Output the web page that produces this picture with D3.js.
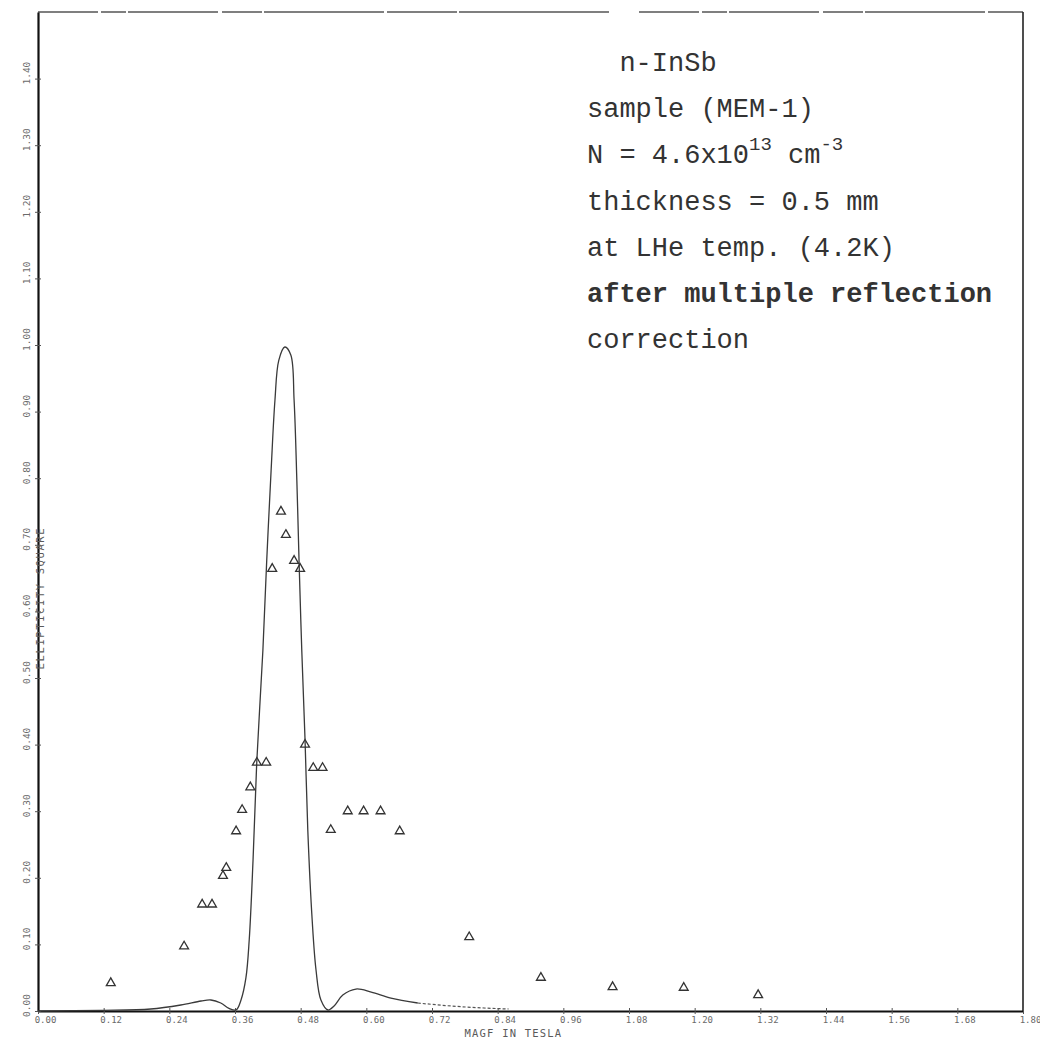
<!DOCTYPE html>
<html>
<head>
<meta charset="utf-8">
<script src="https://cdn.jsdelivr.net/npm/d3@7"></script>
<style>
  html, body { margin: 0; padding: 0; background: #fff; }
  svg { display: block; }
</style>
</head>
<body>
<svg id="chart" width="1040" height="1039"></svg>
<script>
// ---- data ----
const xTickValues = [0.00, 0.12, 0.24, 0.36, 0.48, 0.60, 0.72, 0.84, 0.96, 1.08, 1.20, 1.32, 1.44, 1.56, 1.68, 1.80];
const yTickValues = [0.00, 0.10, 0.20, 0.30, 0.40, 0.50, 0.60, 0.70, 0.80, 0.90, 1.00, 1.10, 1.20, 1.30, 1.40];

// measured points (triangles): field in tesla, ellipticity square
const measuredField = [0.133, 0.267, 0.300, 0.318, 0.338, 0.344, 0.362, 0.373, 0.388, 0.400, 0.417,
                       0.428, 0.444, 0.453, 0.468, 0.479, 0.488, 0.503, 0.520, 0.535,
                       0.566, 0.595, 0.626, 0.661, 0.788, 0.919, 1.050, 1.180, 1.316];
const measuredValue = [0.042, 0.097, 0.160, 0.160, 0.203, 0.215, 0.270, 0.302, 0.336, 0.373, 0.373,
                       0.664, 0.750, 0.715, 0.676, 0.664, 0.400, 0.365, 0.365, 0.272,
                       0.300, 0.300, 0.300, 0.270, 0.111, 0.050, 0.036, 0.035, 0.024];

// theoretical curve
const curveField = [0.000, 0.115, 0.206, 0.261, 0.298, 0.316, 0.334, 0.349, 0.362, 0.371, 0.380, 0.386,
                    0.393, 0.400, 0.411, 0.418, 0.426, 0.433, 0.440, 0.451, 0.462, 0.468, 0.473,
                    0.477, 0.482, 0.488, 0.493, 0.501, 0.508, 0.517, 0.530, 0.541, 0.557, 0.581,
                    0.609, 0.645, 0.694];
const curveValue = [0.000, 0.001, 0.003, 0.009, 0.015, 0.0165, 0.012, 0.004, 0.0015, 0.0165, 0.050, 0.107,
                    0.227, 0.377, 0.542, 0.677, 0.812, 0.917, 0.977, 0.997, 0.985, 0.917, 0.797,
                    0.677, 0.542, 0.407, 0.272, 0.137, 0.062, 0.0165, 0.0015, 0.0075, 0.024, 0.033,
                    0.0285, 0.0195, 0.012];
const tailField = [0.694, 0.755, 0.815, 0.860];
const tailValue = [0.012, 0.0075, 0.0045, 0.003];

const annotationLines = ["  n-InSb", "sample (MEM-1)", "N = 4.6x10|13| cm|-3", "thickness = 0.5 mm",
                         "at LHe temp. (4.2K)", "after multiple reflection", "correction"];
const xTitle = "MAGF IN TESLA";
const yTitle = "ELLIPTICITY SQUARE";

// ---- layout ----
const svg = d3.select("#chart");
const mLeft = 38, mRight = 1023, mTop = 12, mBottom = 1011;

const x = d3.scaleLinear().domain([0, 1.80]).range([mLeft, mRight]);
const y = d3.scaleLinear().domain([0, 1.50]).range([mBottom, mTop]);

// frame: top (broken, lighter) and right border
svg.append("line")
  .attr("x1", mLeft).attr("x2", mRight).attr("y1", mTop).attr("y2", mTop)
  .attr("stroke", "#555").attr("stroke-width", 1.4)
  .attr("stroke-dasharray", "60 3 25 2 90 4 40 2 120 3 70 2 150 30");
svg.append("line")
  .attr("x1", mRight).attr("x2", mRight).attr("y1", mTop).attr("y2", mBottom)
  .attr("stroke", "#222").attr("stroke-width", 1.6);

// x axis
const xAxis = d3.axisBottom(x).tickValues(xTickValues).tickFormat(d3.format(".2f"))
  .tickSize(4).tickSizeOuter(0);
const gx = svg.append("g").attr("transform", `translate(0,${mBottom})`).call(xAxis);
gx.select(".domain").attr("stroke", "#111").attr("stroke-width", 2.2);
gx.selectAll(".tick line").attr("stroke", "#555").attr("y1", -3).attr("y2", 3);
gx.selectAll(".tick text")
  .attr("fill", "#6a6a6a").attr("font-family", "DejaVu Sans Mono, monospace")
  .attr("font-size", 9).attr("dx", 7).attr("y", 6);

// y axis
const yAxis = d3.axisLeft(y).tickValues(yTickValues).tickFormat(d3.format(".2f"))
  .tickSize(4).tickSizeOuter(0);
const gy = svg.append("g").attr("transform", `translate(${mLeft},0)`).call(yAxis);
gy.select(".domain").attr("stroke", "#111").attr("stroke-width", 2.2);
gy.selectAll(".tick line").attr("stroke", "#555").attr("x1", -3).attr("x2", 3);
gy.selectAll(".tick text")
  .attr("fill", "#6a6a6a").attr("font-family", "DejaVu Sans Mono, monospace")
  .attr("font-size", 9.5)
  .attr("x", 0).attr("dy", 0).attr("text-anchor", "middle")
  .attr("transform", "translate(-8,-6) rotate(-90)");

// axis titles
svg.append("text")
  .attr("x", (x(0.84) + x(1.00)) / 2 - 28).attr("y", 1037)
  .attr("text-anchor", "middle")
  .attr("font-family", "DejaVu Sans Mono, monospace").attr("font-size", 10.5)
  .attr("letter-spacing", 1.2).attr("fill", "#5a5a5a")
  .text(xTitle);
svg.append("text")
  .attr("transform", `translate(${mLeft + 6},${y(0.62)}) rotate(-90)`)
  .attr("text-anchor", "middle")
  .attr("font-family", "DejaVu Sans Mono, monospace").attr("font-size", 10.5)
  .attr("letter-spacing", 1.6).attr("fill", "#5a5a5a")
  .text(yTitle);

// theoretical curve
const curveData = curveField.map((f, i) => [f, curveValue[i]]);
svg.append("path")
  .datum(curveData)
  .attr("d", d3.line().x(d => x(d[0])).y(d => y(d[1])).curve(d3.curveCatmullRom.alpha(0.5)))
  .attr("fill", "none").attr("stroke", "#3a3a3a").attr("stroke-width", 1.3);
svg.append("path")
  .datum(tailField.map((f, i) => [f, tailValue[i]]))
  .attr("d", d3.line().x(d => x(d[0])).y(d => y(d[1])).curve(d3.curveMonotoneX))
  .attr("fill", "none").attr("stroke", "#555").attr("stroke-width", 1.2)
  .attr("stroke-dasharray", "3 2");

// measured triangles
const tri = d3.symbol().type(d3.symbolTriangle).size(34);
svg.append("g").selectAll("path")
  .data(measuredField.map((f, i) => [f, measuredValue[i]]))
  .join("path")
  .attr("d", tri)
  .attr("transform", d => `translate(${x(d[0])},${y(d[1])})`)
  .attr("fill", "none").attr("stroke", "#333").attr("stroke-width", 1.3);

// annotation block (typewriter style)
const ann = svg.append("g")
  .attr("font-family", "Liberation Mono, Courier New, monospace")
  .attr("font-size", 27).attr("fill", "#333");
annotationLines.forEach((ln, i) => {
  const t = ann.append("text").attr("x", 587).attr("y", 71 + i * 46.2)
    .style("white-space", "pre");
  if (i === 5) t.attr("font-weight", "bold");
  const parts = ln.split("|");
  parts.forEach((p, j) => {
    const ts = t.append("tspan").text(p);
    if (j % 2 === 1) { ts.attr("font-size", 19).attr("dy", -13); }
    else if (j > 0) { ts.attr("dy", 13); }
  });
});
</script>
</body>
</html>
